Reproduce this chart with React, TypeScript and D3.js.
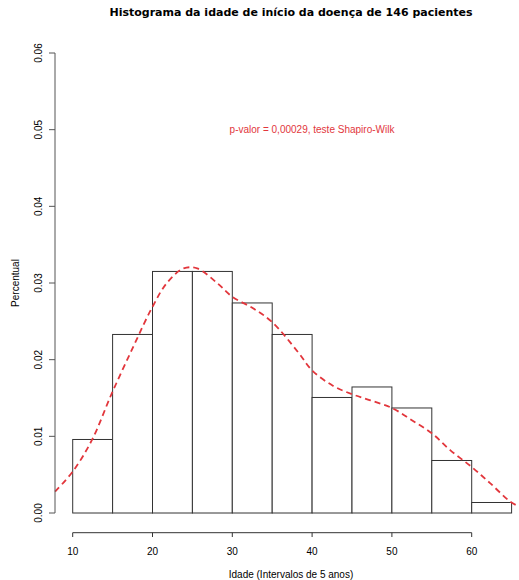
import React from "react";
import * as d3 from "d3";

const binStarts = [10, 15, 20, 25, 30, 35, 40, 45, 50, 55, 60];
const binCounts = [7, 17, 23, 23, 20, 17, 11, 12, 10, 5, 1];
const totalN = 146;
const binWidth = 5;

const curveAge = [7.8, 10, 12.4, 14.9, 17.6, 19.9, 21.8, 23.9, 25.6, 28.1, 30, 32.6, 35, 38.3, 40, 42.6, 45, 47.3, 50, 52.5, 55, 57.3, 60, 62.3, 64.8, 65.8];
const curveDens = [0.0028, 0.0054, 0.0095, 0.0156, 0.0217, 0.0267, 0.0300, 0.0319, 0.0319, 0.0300, 0.0282, 0.0267, 0.0249, 0.0209, 0.0186, 0.0166, 0.0155, 0.0147, 0.0137, 0.0121, 0.0104, 0.0082, 0.0060, 0.0039, 0.0015, 0.0009];

const xTicks = [10, 20, 30, 40, 50, 60];
const yTicks = [0, 0.01, 0.02, 0.03, 0.04, 0.05, 0.06];

export default function App() {
  const W = 519, H = 580;
  const x = d3.scaleLinear().domain([10, 60]).range([72.7, 471.7]);
  const y = d3.scaleLinear().domain([0, 0.06]).range([513, 53]);
  const line = d3.line<number>().x((_, i) => x(curveAge[i])).y((d) => y(d)).curve(d3.curveCatmullRom);
  const tickFont = "Liberation Sans, Arial, sans-serif";
  return (
    <svg width={W} height={H} style={{ position: "absolute", left: 0, top: 0, background: "#fff" }}>
      <text x={291} y={16} textAnchor="middle" fontFamily="DejaVu Sans, sans-serif" fontWeight="bold" fontSize={11} fill="#000">
        Histograma da idade de início da doença de 146 pacientes
      </text>
      {binStarts.map((s, i) => {
        const d = binCounts[i] / (totalN * binWidth);
        return (
          <rect key={s} x={x(s)} y={y(d)} width={x(s + binWidth) - x(s)} height={y(0) - y(d)}
            fill="#fff" stroke="#333" strokeWidth={1} />
        );
      })}
      <path d={line(curveDens) || ""} fill="none" stroke="#e2363c" strokeWidth={1.8} strokeDasharray="6,4" />
      <line x1={55} x2={55} y1={y(0)} y2={y(0.06)} stroke="#555" />
      {yTicks.map((t) => (
        <g key={t}>
          <line x1={49} x2={55} y1={y(t)} y2={y(t)} stroke="#555" />
          <text transform={`translate(42,${y(t)}) rotate(-90)`} textAnchor="middle" fontFamily={tickFont} fontSize={10} fill="#000">
            {t.toFixed(2)}
          </text>
        </g>
      ))}
      <text transform={`translate(18.5,283) rotate(-90)`} textAnchor="middle" fontFamily={tickFont} fontSize={10} fill="#000">Percentual</text>
      <line x1={x(10)} x2={x(60)} y1={532.7} y2={532.7} stroke="#333" />
      {xTicks.map((t) => (
        <g key={t}>
          <line x1={x(t)} x2={x(t)} y1={532.7} y2={537} stroke="#333" />
          <text x={x(t)} y={555} textAnchor="middle" fontFamily={tickFont} fontSize={10} fill="#000">{t}</text>
        </g>
      ))}
      <text x={291} y={578} textAnchor="middle" fontFamily={tickFont} fontSize={10} fill="#000">Idade (Intervalos de 5 anos)</text>
      <text x={312} y={133} textAnchor="middle" fontFamily={tickFont} fontSize={10} fill="#e2363c">p-valor = 0,00029, teste Shapiro-Wilk</text>
    </svg>
  );
}
